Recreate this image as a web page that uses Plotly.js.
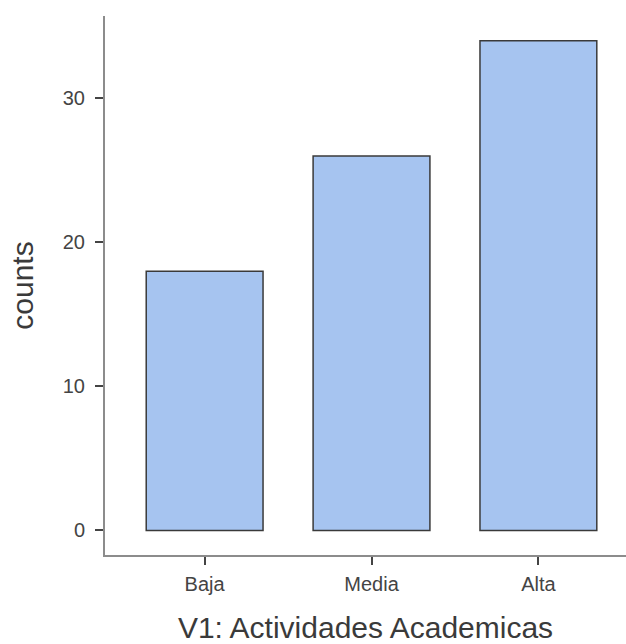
<!DOCTYPE html>
<html>
<head>
<meta charset="utf-8">
<script src="https://cdn.plot.ly/plotly-3.0.1.min.js"></script>
<style>html,body{margin:0;padding:0;background:#fff;}#chart{width:626px;height:644px;}</style>
</head>
<body>
<div id="chart"></div>
<script>
const categories = ["Baja", "Media", "Alta"];
const counts = [18, 26, 34];
const yTickVals = [0, 10, 20, 30];
const yTickText = ["0", "10", "20", "30"];
const xTitle = "V1: Actividades Academicas";
const yTitle = "counts";

const trace = {
  type: "bar",
  x: categories,
  y: counts,
  width: 0.7,
  marker: { color: "#a6c4f0", line: { color: "#3a3a3a", width: 1.5 } },
  hoverinfo: "x+y"
};

const layout = {
  width: 626, height: 644,
  margin: { l: 105, r: 0, t: 16, b: 89, autoexpand: false },
  paper_bgcolor: "#ffffff", plot_bgcolor: "#ffffff",
  showlegend: false,
  font: { family: "Liberation Sans, Arial, sans-serif", color: "#333333" },
  xaxis: {
    type: "category",
    range: [-0.597, 2.525],
    showgrid: false, zeroline: false,
    showline: true, linecolor: "#8c8c8c", linewidth: 2,
    ticks: "outside", ticklen: 8, tickwidth: 2, tickcolor: "#444444",
    ticklabelstandoff: 2,
    tickfont: { size: 20, color: "#444444" },
    title: { text: xTitle, font: { size: 30, color: "#3a3a3a" }, standoff: 24 }
  },
  yaxis: {
    range: [-1.71, 35.72],
    tickvals: yTickVals, ticktext: yTickText,
    showgrid: false, zeroline: false,
    showline: true, linecolor: "#8c8c8c", linewidth: 2,
    ticks: "outside", ticklen: 8, tickwidth: 2, tickcolor: "#444444",
    ticklabelstandoff: 6,
    tickfont: { size: 20, color: "#444444" },
    title: { text: yTitle, font: { size: 30, color: "#3a3a3a" }, standoff: 20 }
  }
};

Plotly.newPlot("chart", [trace], layout, { displayModeBar: false, staticPlot: true });
</script>
</body>
</html>
